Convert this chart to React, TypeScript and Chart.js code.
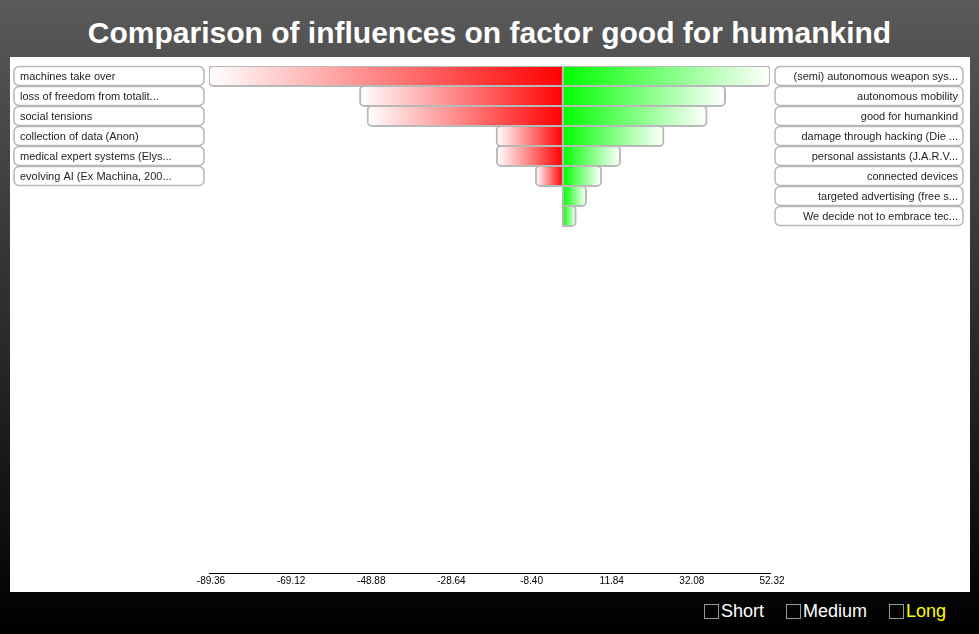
import React, { useEffect, useRef } from "react";
import { Chart, registerables } from "chart.js";

Chart.register(...registerables);

const TITLE = "Comparison of influences on factor good for humankind";

const leftLabels = [
  "machines take over",
  "loss of freedom from totalit...",
  "social tensions",
  "collection of data (Anon)",
  "medical expert systems (Elys...",
  "evolving AI (Ex Machina, 200...",
];

const rightLabels = [
  "(semi) autonomous weapon sys...",
  "autonomous mobility",
  "good for humankind",
  "damage through hacking (Die ...",
  "personal assistants (J.A.R.V...",
  "connected devices",
  "targeted advertising (free s...",
  "We decide not to embrace tec...",
];

const negativeValues = [-89.36, -51.2, -49.3, -16.7, -16.65, -6.8];
const positiveValues = [52.32, 40.95, 36.3, 25.4, 14.45, 9.65, 5.85, 3.25];

const tickValues = [-89.36, -69.12, -48.88, -28.64, -8.4, 11.84, 32.08, 52.32];

const legendItems = ["Short", "Medium", "Long"];
const activeLegend = "Long";

const FONT = '"Liberation Sans", Arial, Helvetica, sans-serif';
const ROW_PX = 20;

function roundRect(ctx: CanvasRenderingContext2D, x: number, y: number, w: number, h: number, r: number) {
  ctx.beginPath();
  ctx.moveTo(x + r, y);
  ctx.lineTo(x + w - r, y);
  ctx.arcTo(x + w, y, x + w, y + r, r);
  ctx.lineTo(x + w, y + h - r);
  ctx.arcTo(x + w, y + h, x + w - r, y + h, r);
  ctx.lineTo(x + r, y + h);
  ctx.arcTo(x, y + h, x, y + h - r, r);
  ctx.lineTo(x, y + r);
  ctx.arcTo(x, y, x + r, y, r);
  ctx.closePath();
}

const labelBoxesPlugin = {
  id: "labelBoxes",
  afterDraw(chart: any) {
    const { ctx, chartArea, scales } = chart;
    const y = scales.y;
    ctx.save();
    ctx.font = `11px ${FONT}`;
    ctx.textBaseline = "middle";
    const drawBox = (x0: number, w: number, cy: number, text: string, align: "left" | "right") => {
      const h = 19;
      roundRect(ctx, x0, cy - h / 2, w, h, 5);
      ctx.fillStyle = "#ffffff";
      ctx.fill();
      ctx.lineWidth = 1.5;
      ctx.strokeStyle = "#b6b6b6";
      ctx.stroke();
      ctx.fillStyle = "#1e1e1e";
      ctx.textAlign = align;
      ctx.fillText(text, align === "left" ? x0 + 6 : x0 + w - 5, cy + 0.5);
    };
    leftLabels.forEach((t, i) => {
      const cy = y.getPixelForValue(i);
      drawBox(chartArea.left - 195, 190, cy, t, "left");
    });
    rightLabels.forEach((t, i) => {
      const cy = y.getPixelForValue(i);
      drawBox(chartArea.right + 5, 188, cy, t, "right");
    });
    ctx.restore();
  },
};

function gradientFor(colorAtZero: string) {
  return (c: any) => {
    const chart = c.chart;
    const xs = chart.scales && chart.scales.x;
    if (!xs || !c.parsed) return colorAtZero;
    const x0 = xs.getPixelForValue(0);
    const x1 = xs.getPixelForValue(c.parsed.x);
    if (!isFinite(x0) || !isFinite(x1) || x0 === x1) return colorAtZero;
    const g = chart.ctx.createLinearGradient(x1, 0, x0, 0);
    g.addColorStop(0, "#ffffff");
    g.addColorStop(1, colorAtZero);
    return g;
  };
}

function ChartCanvas() {
  const ref = useRef<HTMLCanvasElement | null>(null);
  useEffect(() => {
    if (!ref.current) return;
    const chart = new Chart(ref.current, {
      type: "bar",
      data: {
        datasets: [
          {
            label: "negative",
            data: negativeValues.map((v, i) => ({ x: v, y: i })),
            backgroundColor: gradientFor("#ff0000"),
            borderColor: "#b9b9b9",
            borderWidth: 2,
            inflateAmount: 1,
            borderSkipped: false,
            borderRadius: { topLeft: 5, bottomLeft: 5, topRight: 0, bottomRight: 0 },
            barThickness: ROW_PX,
          },
          {
            label: "positive",
            data: positiveValues.map((v, i) => ({ x: v, y: i })),
            backgroundColor: gradientFor("#00ff00"),
            borderColor: "#b9b9b9",
            borderWidth: 2,
            inflateAmount: 1,
            borderSkipped: false,
            borderRadius: { topLeft: 0, bottomLeft: 0, topRight: 5, bottomRight: 5 },
            barThickness: ROW_PX,
          },
        ],
      } as any,
      options: {
        animation: false,
        responsive: false,
        indexAxis: "y",
        layout: { padding: { left: 199, right: 200, top: 9, bottom: 0 } },
        plugins: {
          legend: { display: false },
          tooltip: { enabled: false },
          title: { display: false },
        },
        scales: {
          x: {
            type: "linear",
            stacked: true,
            offset: false,
            min: tickValues[0],
            max: tickValues[tickValues.length - 1],
            grid: { display: false, drawTicks: false },
            border: { display: true, color: "#000000", width: 1 },
            afterBuildTicks: (axis: any) => {
              axis.ticks = tickValues.map((v) => ({ value: v }));
            },
            afterFit: (axis: any) => {
              axis.height = 19;
            },
            ticks: {
              autoSkip: false,
              maxRotation: 0,
              padding: 2,
              labelOffset: 2,
              color: "#000000",
              font: { family: FONT, size: 10 },
              callback: (v: any) => Number(v).toFixed(2),
            },
          },
          y: {
            type: "linear",
            stacked: true,
            offset: false,
            display: false,
            reverse: true,
            grid: { offset: false },
            min: -0.5,
            max: -0.5 + 507 / ROW_PX,
          },
        },
      } as any,
      plugins: [labelBoxesPlugin],
    });
    return () => chart.destroy();
  }, []);
  return <canvas ref={ref} width={960} height={535} style={{ display: "block" }} />;
}

export default function App() {
  return (
    <div
      style={{
        position: "fixed",
        left: 0,
        top: 0,
        width: 979,
        height: 634,
        background: "linear-gradient(#5a5a5a, #000000)",
        fontFamily: FONT,
        overflow: "hidden",
      }}
    >
      <div
        style={{
          position: "absolute",
          left: 0,
          top: 18,
          width: 979,
          textAlign: "center",
          color: "#ffffff",
          fontWeight: "bold",
          fontSize: 30,
          lineHeight: "30px",
          whiteSpace: "nowrap",
        }}
      >
        {TITLE}
      </div>
      <div
        style={{
          position: "absolute",
          left: 10,
          top: 57,
          width: 960,
          height: 535,
          background: "#ffffff",
        }}
      >
        <ChartCanvas />
      </div>
      <div
        style={{
          position: "absolute",
          right: 33,
          top: 601,
          display: "flex",
          alignItems: "center",
          gap: 22,
          fontSize: 18,
          lineHeight: "20px",
        }}
      >
        {legendItems.map((name) => (
          <div key={name} style={{ display: "flex", alignItems: "center" }}>
            <span
              style={{
                display: "inline-block",
                width: 13,
                height: 13,
                border: "1px solid #9a9a9a",
                marginRight: 2,
              }}
            />
            <span style={{ color: name === activeLegend ? "#ffff00" : "#ffffff" }}>{name}</span>
          </div>
        ))}
      </div>
    </div>
  );
}
